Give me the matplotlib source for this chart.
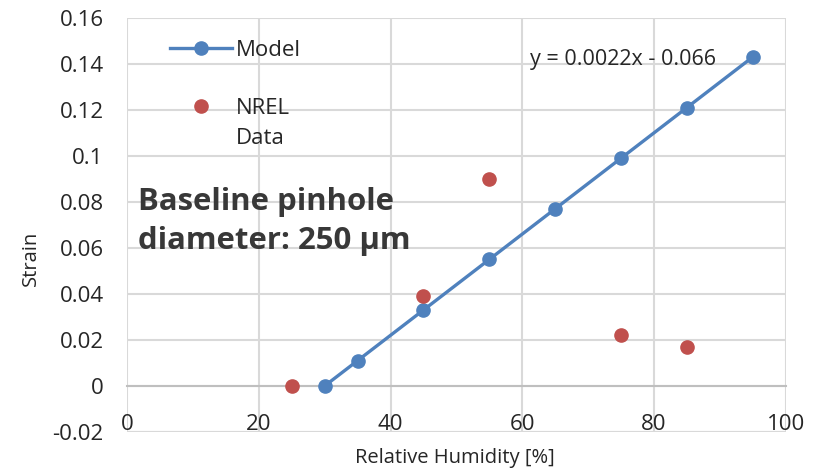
import matplotlib
matplotlib.use("Agg")
import matplotlib.pyplot as plt

plt.rcParams['font.family'] = ['Open Sans', 'DejaVu Sans']

model_rh = [30, 35, 45, 55, 65, 75, 85, 95]
model_strain = [0.0, 0.011, 0.033, 0.055, 0.077, 0.099, 0.121, 0.143]
nrel_rh = [25, 45, 55, 75, 85]
nrel_strain = [0.0, 0.039, 0.090, 0.022, 0.017]
x_ticks = [0, 20, 40, 60, 80, 100]
y_ticks = [-0.02, 0, 0.02, 0.04, 0.06, 0.08, 0.1, 0.12, 0.14, 0.16]
y_tick_labels = ["-0.02", "0", "0.02", "0.04", "0.06", "0.08", "0.1", "0.12", "0.14", "0.16"]

blue = "#4f81bd"
red = "#c0504d"
grid = "#d9d9d9"
txt = "#262626"

fig = plt.figure(figsize=(8.15, 4.71), dpi=100)
ax = fig.add_axes([0.156, 0.083, 0.808, 0.879])

ax.plot(model_rh, model_strain, color=blue, lw=2.4, marker='o', ms=9.5, label="Model", zorder=3)
ax.plot(nrel_rh, nrel_strain, ls='none', color=red, marker='o', ms=9.5, label="NREL", zorder=3)

ax.set_xlim(0, 100)
ax.set_ylim(-0.02, 0.16)
ax.set_xticks(x_ticks)
ax.set_yticks(y_ticks)
ax.set_yticklabels(y_tick_labels)
ax.grid(True, color=grid, lw=1.5, zorder=0)
ax.set_axisbelow(True)

for s in ['top', 'right', 'left']:
    ax.spines[s].set_visible(False)
ax.spines['bottom'].set_position(('data', 0))
ax.spines['bottom'].set_color('#bfbfbf')
ax.spines['bottom'].set_linewidth(1.5)
ax.tick_params(axis='both', length=0, labelsize=16, colors=txt)
ax.tick_params(axis='y', pad=17)
ax.tick_params(axis='x', pad=20)

ax.axhline(-0.02, color=grid, lw=1.5, zorder=0)

fig.text(455 / 815, 1 - 458 / 471, "Relative Humidity [%]", fontsize=14.5, color=txt,
         ha='center', va='center')
fig.text(31 / 815, 1 - 258 / 471, "Strain", fontsize=14.5, color=txt,
         ha='center', va='center', rotation=90)

leg = ax.legend(loc='upper left', bbox_to_anchor=(0.035, 0.995), frameon=False,
                fontsize=16, handlelength=2.8, labelspacing=1.65, handletextpad=0.15,
                labelcolor=txt)

fig.canvas.draw()
nrel_txt = leg.get_texts()[1]
bb = nrel_txt.get_window_extent()
inv = fig.transFigure.inverted()
x0, y0 = inv.transform((bb.x0, bb.y0))
fig.text(x0, y0 - 30 / 471, "Data", fontsize=16, color=txt, ha='left', va='bottom')

ax.text(61.2, 0.1417, "y = 0.0022x - 0.066", fontsize=15.5, ha='left', va='center', color=txt)
ax.text(1.7, 0.0715, "Baseline pinhole\ndiameter: 250 µm", fontsize=22.4, fontweight='bold',
        color='#383838', ha='left', va='center', linespacing=1.38)

fig.savefig("out.png", dpi=100)
